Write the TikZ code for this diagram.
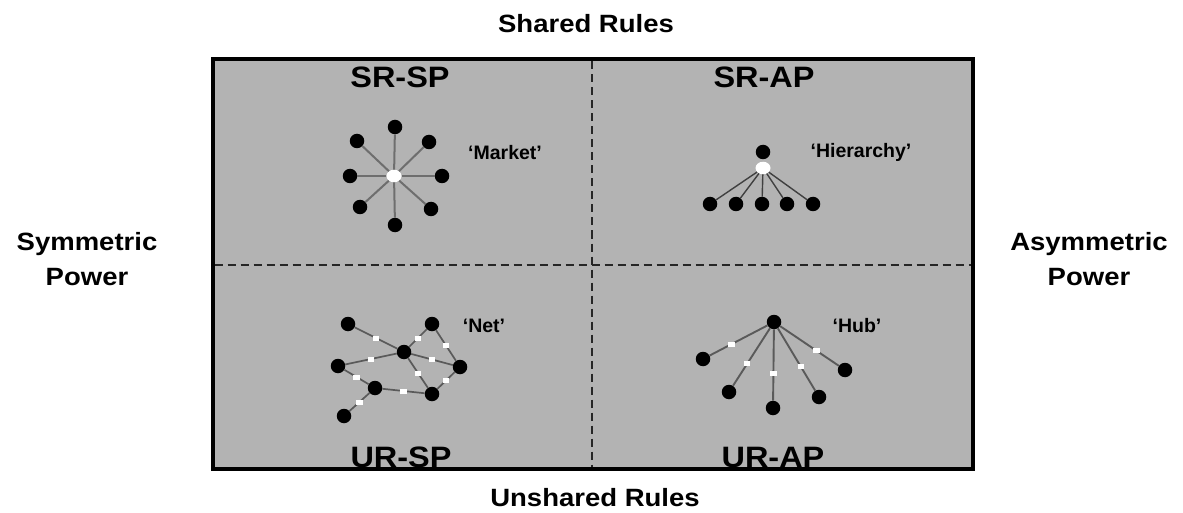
\documentclass[tikz,border=0pt]{standalone}
\usepackage{fontspec}
\setmainfont{Liberation Sans}
\usetikzlibrary{shapes.geometric}
\definecolor{boxgray}{RGB}{179,179,179}
\definecolor{edgegray}{RGB}{90,90,90}
\definecolor{spokegray}{RGB}{110,110,110}
\newcommand{\wider}[1]{\scalebox{1.1}[1]{#1}}
\begin{document}
\begin{tikzpicture}[x=1pt,y=-1pt,
  dot/.style={circle,fill=black,inner sep=0pt,minimum size=14.5pt},
  hole/.style={ellipse,fill=white,inner sep=0pt,minimum width=15pt,minimum height=12.5pt},
  link/.style={draw=edgegray,line width=1.7pt},
  spoke/.style={draw=spokegray,line width=2pt},
  sq/.style={rectangle,fill=white,inner sep=0pt,minimum width=6.5pt,minimum height=5pt},
  title/.style={font=\bfseries\fontsize{25}{29}\selectfont,anchor=base,inner sep=0pt},
  quad/.style={font=\bfseries\fontsize{29.5}{34}\selectfont,anchor=base,inner sep=0pt},
  tag/.style={font=\bfseries\fontsize{19.5}{23}\selectfont,anchor=base,inner sep=0pt},
  divider/.style={draw=black!85,line width=1.2pt,dash pattern=on 8pt off 5pt}]
\useasboundingbox (0,0) rectangle (1183,513);
\fill[white] (0,0) rectangle (1183,513);
\draw[fill=boxgray,line width=4pt] (212.5,59.5) rectangle (972.5,468.5);
% dividers
\coordinate (vt) at (592,61.5);
\coordinate (vb) at (592,466.5);
\coordinate (hl) at (214.5,265);
\coordinate (hr) at (970.5,265);
\draw[divider] (vt) -- (vb);
\draw[divider] (hl) -- (hr);
% outer labels
\node[title] (shared) at (586,33) {\wider{Shared Rules}};
\node[title] (unshared) at (595,506) {\wider{Unshared Rules}};
\node[title] (sym1) at (87,250) {\wider{Symmetric}};
\node[title] (sym2) at (87,285) {\wider{Power}};
\node[title] (asym1) at (1089,250) {\wider{Asymmetric}};
\node[title] (asym2) at (1089,285) {\wider{Power}};
% quadrant labels
\node[quad] (srsp) at (400,88) {\wider{SR-SP}};
\node[quad] (srap) at (764,88) {\wider{SR-AP}};
\node[quad] (ursp) at (401,467) {\wider{UR-SP}};
\node[quad] (urap) at (773,467) {\wider{UR-AP}};
% tags
\node[tag] (market) at (505,160) {‘Market’};
\node[tag] (hierarchy) at (861,158) {‘Hierarchy’};
\node[tag] (net) at (484,332) {‘Net’};
\node[tag] (hub) at (857,332) {‘Hub’};
% Market
\node[hole] (mc) at (394,176) {};
\foreach \n/\x/\y in {m1/395/127,m2/357/141,m3/429/142,m4/350/176,m5/442/176,m6/360/207,m7/431/209,m8/395/225}{
  \node[dot] (\n) at (\x,\y) {};
  \draw[spoke] (mc) -- (\n);
}
% Hierarchy
\node[dot] (ht) at (763,152) {};
\node[hole] (hc) at (763,168) {};
\foreach \n/\x in {h1/710,h2/736,h3/762,h4/787,h5/813}{
  \node[dot] (\n) at (\x,204) {};
  \draw[draw=black!75,line width=1.4pt] (hc) -- (\n);
}
% Net
\node[dot] (na) at (348,324) {};
\node[dot] (nb) at (432,324) {};
\node[dot] (nc) at (404,352) {};
\node[dot] (nd) at (338,366) {};
\node[dot] (ne) at (460,367) {};
\node[dot] (nf) at (375,388) {};
\node[dot] (ng) at (432,394) {};
\node[dot] (nh) at (344,416) {};
\foreach \a/\b in {na/nc,nb/nc,nb/ne,nd/nc,nc/ne,nc/ng,nd/nf,ne/ng,nf/ng,nf/nh}{
  \draw[link] (\a) -- node[sq]{} (\b);
}
% Hub
\node[dot] (ut) at (774,322) {};
\foreach \n/\x/\y in {u1/703/359,u2/729/392,u3/773/408,u4/819/397,u5/845/370}{
  \node[dot] (\n) at (\x,\y) {};
  \draw[link,line width=1.9pt] (ut) -- node[sq,pos=0.62]{} (\n);
}
\end{tikzpicture}
\end{document}
